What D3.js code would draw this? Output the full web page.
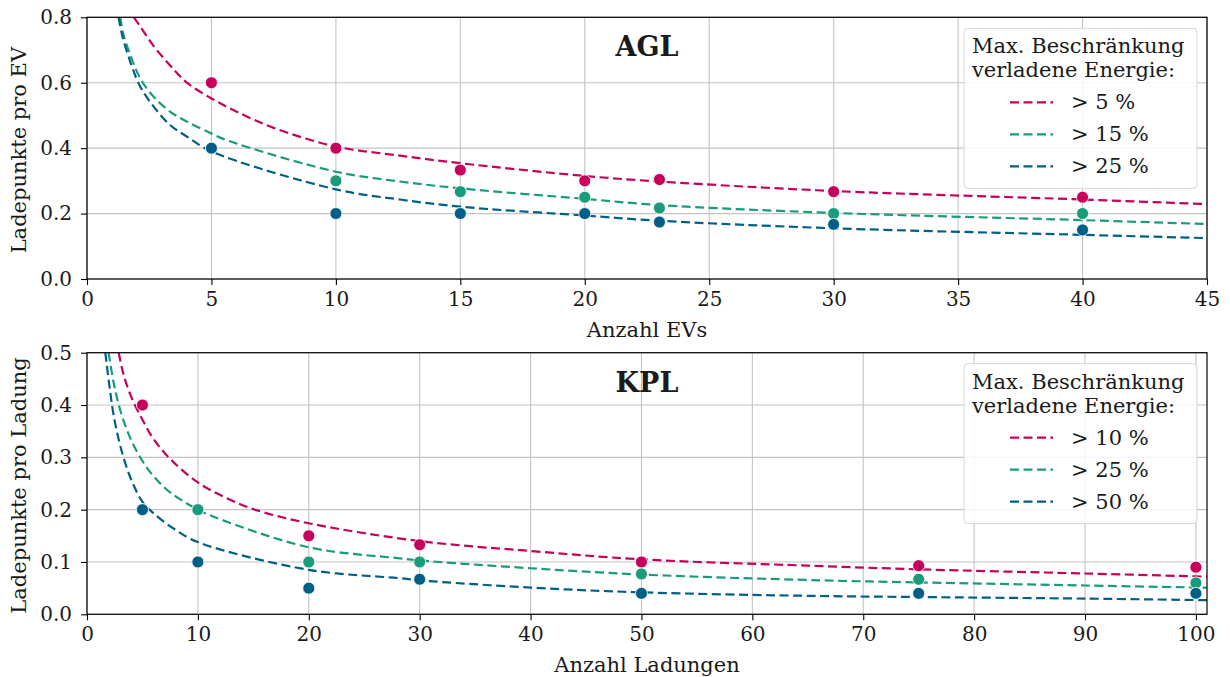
<!DOCTYPE html>
<html>
<head>
<meta charset="utf-8">
<script src="https://cdn.jsdelivr.net/npm/d3@7"></script>
<style>
  body { margin: 0; background: #fff; }
  text { font-family: "DejaVu Serif", serif; fill: #1a1a1a; }
</style>
</head>
<body>
<svg id="chart" width="1230" height="677"></svg>
<script>
// colours of the three constraint levels
const colors = ['#c6005b', '#1a9b7b', '#005f86'];

// ---- AGL (top) ----
const aglX = [5, 10, 15, 20, 23, 30, 40];
const aglHigh = [0.6, 0.4, 0.333, 0.3, 0.304, 0.267, 0.25];   // > 5 %
const aglMid  = [0.4, 0.3, 0.267, 0.25, 0.217, 0.2, 0.2];      // > 15 %
const aglLow  = [0.4, 0.2, 0.2, 0.2, 0.174, 0.167, 0.15];      // > 25 %
const aglLabels = ['> 5 %', '> 15 %', '> 25 %'];

// fitted curves
const aglFitHighX = [1.88, 2.14, 2.68, 3.35, 4, 5, 6, 7.5, 10, 12.58, 15, 20, 23, 30, 40, 45];
const aglFitHighY = [0.8, 0.772, 0.712, 0.652, 0.601, 0.552, 0.512, 0.462, 0.405, 0.377, 0.354, 0.315, 0.298, 0.269, 0.243, 0.229];
const aglFitMidX = [1.34, 1.47, 1.74, 2.14, 2.68, 3.35, 4.02, 5, 5.63, 10, 12.58, 15, 20, 23, 30, 40, 45];
const aglFitMidY = [0.8, 0.746, 0.685, 0.613, 0.557, 0.511, 0.481, 0.445, 0.424, 0.328, 0.298, 0.277, 0.245, 0.226, 0.202, 0.18, 0.168];
const aglFitLowX = [1.27, 1.41, 1.74, 2.14, 2.68, 3.35, 4.02, 5, 10, 12.58, 15, 20, 23, 30, 40, 45];
const aglFitLowY = [0.8, 0.746, 0.664, 0.588, 0.527, 0.47, 0.435, 0.39, 0.274, 0.243, 0.221, 0.194, 0.178, 0.155, 0.135, 0.125];

// ---- KPL (bottom) ----
const kplX = [5, 10, 20, 30, 50, 75, 100];
const kplHigh = [0.4, 0.2, 0.15, 0.133, 0.1, 0.093, 0.09];    // > 10 %
const kplMid  = [0.2, 0.2, 0.1, 0.1, 0.077, 0.067, 0.06];     // > 25 %
const kplLow  = [0.2, 0.1, 0.05, 0.067, 0.04, 0.04, 0.04];    // > 50 %
const kplLabels = ['> 10 %', '> 25 %', '> 50 %'];

const kplFitHighX = [2.86, 3.3, 4, 5, 6, 7.5, 10, 12.5, 15, 20, 30, 40, 50, 65, 75, 90, 101];
const kplFitHighY = [0.5, 0.458, 0.415, 0.372, 0.335, 0.297, 0.252, 0.223, 0.201, 0.174, 0.14, 0.121, 0.105, 0.093, 0.086, 0.078, 0.072];
const kplFitMidX = [1.95, 2.4, 3, 3.9, 5, 6, 7.5, 10, 11.6, 20, 28.2, 30, 40, 50, 66, 75, 90, 101];
const kplFitMidY = [0.5, 0.443, 0.39, 0.337, 0.293, 0.264, 0.233, 0.2, 0.185, 0.128, 0.107, 0.103, 0.088, 0.076, 0.065, 0.061, 0.055, 0.051];
const kplFitLowX = [1.65, 2.1, 2.4, 3, 3.9, 5, 6, 7.8, 10, 20, 28.2, 30, 40, 50, 66, 75, 90, 101];
const kplFitLowY = [0.5, 0.424, 0.381, 0.322, 0.262, 0.215, 0.193, 0.164, 0.138, 0.085, 0.069, 0.065, 0.051, 0.042, 0.035, 0.033, 0.03, 0.027];

const legendTitle = ['Max. Beschränkung', 'verladene Energie:'];

const svg = d3.select('#chart');

function drawPanel(opts) {
    const left = 87, right = 1207;
    const top = opts.top, bottom = opts.bottom;
    const x = d3.scaleLinear().domain(opts.xDomain).range([left, right]);
    const y = d3.scaleLinear().domain(opts.yDomain).range([bottom, top]);
    const g = svg.append('g');

    const clipId = 'clip-' + opts.name;
    g.append('clipPath').attr('id', clipId)
        .append('rect')
        .attr('x', left).attr('y', top)
        .attr('width', right - left).attr('height', bottom - top);

    // grid
    g.append('g').selectAll('line')
        .data(opts.xTicks)
        .join('line')
        .attr('x1', d => x(d)).attr('x2', d => x(d))
        .attr('y1', top).attr('y2', bottom)
        .attr('stroke', '#c4c4c4').attr('stroke-width', 1.1);
    g.append('g').selectAll('line')
        .data(opts.yTicks)
        .join('line')
        .attr('x1', left).attr('x2', right)
        .attr('y1', d => y(d)).attr('y2', d => y(d))
        .attr('stroke', '#c4c4c4').attr('stroke-width', 1.1);

    // fitted curves
    const line = d3.line()
        .x(d => x(d[0])).y(d => y(d[1]))
        .curve(d3.curveCatmullRom.alpha(0.5));
    const lines = g.append('g').attr('clip-path', 'url(#' + clipId + ')');
    opts.fits.forEach((f, i) => {
        lines.append('path')
            .datum(d3.zip(f[0], f[1]))
            .attr('d', line)
            .attr('fill', 'none')
            .attr('stroke', colors[i])
            .attr('stroke-width', 2.2)
            .attr('stroke-dasharray', '9,4.5');
    });

    // measured points
    opts.series.forEach((s, i) => {
        g.append('g').selectAll('circle')
            .data(d3.zip(opts.xs, s))
            .join('circle')
            .attr('cx', d => x(d[0]))
            .attr('cy', d => y(d[1]))
            .attr('r', 6)
            .attr('fill', colors[i])
            .attr('stroke', '#fff')
            .attr('stroke-width', 0.8);
    });

    // axes
    const xAxis = g.append('g')
        .attr('transform', 'translate(0,' + bottom + ')')
        .call(d3.axisBottom(x).tickValues(opts.xTicks).tickSize(6).tickPadding(7));
    const yAxis = g.append('g')
        .attr('transform', 'translate(' + left + ',0)')
        .call(d3.axisLeft(y).tickValues(opts.yTicks).tickFormat(d3.format('.1f')).tickSize(6).tickPadding(9));
    [xAxis, yAxis].forEach(a => {
        a.selectAll('.domain').remove();
        a.selectAll('.tick line').attr('stroke', '#000').attr('stroke-width', 1.1);
        a.selectAll('.tick text')
            .attr('fill', '#1a1a1a')
            .style('font-family', '"DejaVu Serif", serif')
            .style('font-size', '20px');
    });

    // frame
    g.append('rect')
        .attr('x', left).attr('y', top)
        .attr('width', right - left).attr('height', bottom - top)
        .attr('fill', 'none').attr('stroke', '#000').attr('stroke-width', 1.2);

    // title
    g.append('text')
        .attr('x', 647).attr('y', top + 39)
        .attr('text-anchor', 'middle')
        .style('font-size', '27px').style('font-weight', 'bold')
        .text(opts.title);

    // axis labels
    g.append('text')
        .attr('x', 647).attr('y', opts.xLabelY)
        .attr('text-anchor', 'middle')
        .style('font-size', '21px')
        .text(opts.xLabel);
    g.append('text')
        .attr('transform', 'translate(26,' + ((top + bottom) / 2 + 2) + ') rotate(-90)')
        .attr('text-anchor', 'middle')
        .style('font-size', '21px')
        .text(opts.yLabel);

    // legend
    const lg = g.append('g').attr('transform', 'translate(964,' + (top + 11) + ')');
    lg.append('rect')
        .attr('width', 233).attr('height', 160)
        .attr('rx', 4)
        .attr('fill', '#fff').attr('fill-opacity', 0.85)
        .attr('stroke', '#d6d6d6');
    legendTitle.forEach((t, i) => {
        lg.append('text')
            .attr('x', 8).attr('y', 25 + i * 24)
            .style('font-size', '21px')
            .text(t);
    });
    opts.labels.forEach((t, i) => {
        const cy = 74 + i * 32;
        lg.append('line')
            .attr('x1', 46).attr('x2', 89)
            .attr('y1', cy).attr('y2', cy)
            .attr('stroke', colors[i])
            .attr('stroke-width', 2.2)
            .attr('stroke-dasharray', '9,4.5');
        lg.append('text')
            .attr('x', 107).attr('y', cy + 7)
            .style('font-size', '21px')
            .text(t);
    });
}

drawPanel({name: 'agl', top: 17.3, bottom: 279,
           xDomain: [0, 45], yDomain: [0, 0.8],
           xTicks: d3.range(0, 46, 5), yTicks: [0, 0.2, 0.4, 0.6, 0.8],
           xs: aglX, series: [aglHigh, aglMid, aglLow],
           fits: [[aglFitHighX, aglFitHighY], [aglFitMidX, aglFitMidY], [aglFitLowX, aglFitLowY]],
           labels: aglLabels, title: 'AGL',
           xLabel: 'Anzahl EVs', xLabelY: 337,
           yLabel: 'Ladepunkte pro EV'});

drawPanel({name: 'kpl', top: 352.7, bottom: 614.3,
           xDomain: [0, 101], yDomain: [0, 0.5],
           xTicks: d3.range(0, 101, 10), yTicks: [0, 0.1, 0.2, 0.3, 0.4, 0.5],
           xs: kplX, series: [kplHigh, kplMid, kplLow],
           fits: [[kplFitHighX, kplFitHighY], [kplFitMidX, kplFitMidY], [kplFitLowX, kplFitLowY]],
           labels: kplLabels, title: 'KPL',
           xLabel: 'Anzahl Ladungen', xLabelY: 672,
           yLabel: 'Ladepunkte pro Ladung'});
</script>
</body>
</html>
